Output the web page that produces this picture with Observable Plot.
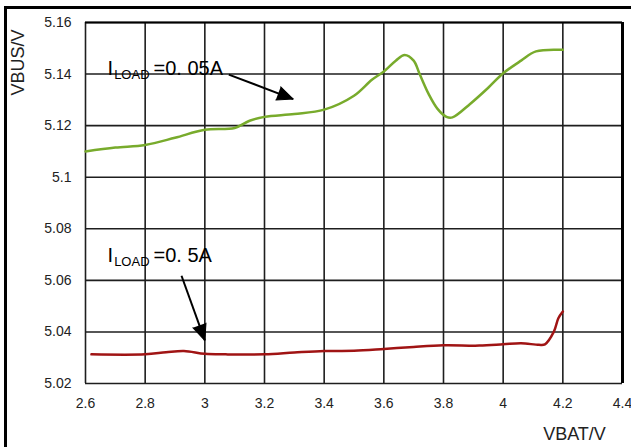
<!DOCTYPE html>
<html><head><meta charset="utf-8">
<script src="https://cdn.jsdelivr.net/npm/d3@7"></script>
<script src="https://cdn.jsdelivr.net/npm/@observablehq/plot@0.6"></script>
<style>
body{margin:0;background:#fff;}
#wrap{position:relative;width:631px;height:447px;overflow:hidden;background:#fff;}
#wrap svg{position:absolute;left:0;top:0;}
#frame{position:absolute;left:4px;top:6px;width:700px;height:500px;border-left:3px solid #000;border-top:3px solid #000;pointer-events:none;}
</style></head><body><div id="wrap"><div id="frame"></div></div>
<script>
// VBAT (V) and VBUS (V)
const vbatGreen = [2.6, 2.7, 2.8, 2.9, 3.0, 3.1, 3.15, 3.2, 3.3, 3.4, 3.5, 3.56, 3.6, 3.64, 3.67, 3.70, 3.72, 3.75, 3.78, 3.81, 3.83, 3.89, 3.95, 4.0, 4.06, 4.11, 4.2];
const vbusGreen = [5.110, 5.1115, 5.1125, 5.1153, 5.1184, 5.1191, 5.1219, 5.1234, 5.1245, 5.1262, 5.1316, 5.1378, 5.1410, 5.1452, 5.1474, 5.1452, 5.1400, 5.1323, 5.1265, 5.1234, 5.1232, 5.1285, 5.1347, 5.1403, 5.1452, 5.1488, 5.1494];
const vbatRed = [2.62, 2.8, 2.87, 2.93, 3.0, 3.07, 3.2, 3.3, 3.4, 3.5, 3.6, 3.7, 3.8, 3.92, 4.0, 4.06, 4.12, 4.14, 4.17, 4.185, 4.2];
const vbusRed = [5.0313, 5.0313, 5.0321, 5.0326, 5.0315, 5.0313, 5.0313, 5.0320, 5.0326, 5.0327, 5.0334, 5.0342, 5.0348, 5.0347, 5.0352, 5.0356, 5.0350, 5.0352, 5.0401, 5.0453, 5.0479];

const xTickValues = [2.6, 2.8, 3.0, 3.2, 3.4, 3.6, 3.8, 4.0, 4.2, 4.4];
const xTickLabels = ["2.6", "2.8", "3", "3.2", "3.4", "3.6", "3.8", "4", "4.2", "4.4"];
const yTickValues = [5.02, 5.04, 5.06, 5.08, 5.10, 5.12, 5.14, 5.16];
const yTickLabels = ["5.02", "5.04", "5.06", "5.08", "5.1", "5.12", "5.14", "5.16"];

const xLabel = "VBAT/V";
const yLabel = "VBUS/V";

const annoText = ["ILOAD=0. 05A", "ILOAD=0. 5A"];
const annoX = [2.674, 2.674];
const annoY = [5.1421, 5.0696];
const arrowX1 = [3.0804, 2.9218];
const arrowY1 = [5.1398, 5.0618];
const arrowX2 = [3.2962, 3.0];
const arrowY2 = [5.1303, 5.0367];

const W = 631, H = 447, ML = 85, MR = 9, MT = 22, MB = 64;
const xDom = [2.6, 4.4], yDom = [5.02, 5.16];
const kx = (W - ML - MR) / (xDom[1] - xDom[0]);
const ky = (H - MT - MB) / (yDom[1] - yDom[0]);

const green = vbatGreen.map((x, i) => ({x, y: vbusGreen[i]}));
const red = vbatRed.map((x, i) => ({x, y: vbusRed[i]}));
const annos = annoText.map((t, i) => ({t, x: annoX[i], y: annoY[i]}));
const arrows = arrowX1.map((x1, i) => ({
  x1, y1: arrowY1[i], x2: arrowX2[i], y2: arrowY2[i],
  rot: Math.atan2((arrowX2[i] - x1) * kx, (arrowY2[i] - arrowY1[i]) * ky) * 180 / Math.PI
}));

const gridColor = "#1e1e1e";
const chart = Plot.plot({
  width: W, height: H,
  marginLeft: ML, marginRight: MR, marginTop: MT, marginBottom: MB,
  style: {fontFamily: "'Liberation Sans', Arial, sans-serif", fontSize: "14px", color: "#222", background: "transparent"},
  x: {domain: xDom, ticks: xTickValues, tickSize: 0, tickPadding: 15,
      tickFormat: d => xTickLabels[xTickValues.findIndex(v => Math.abs(v - d) < 1e-9)], label: null},
  y: {domain: yDom, ticks: yTickValues, tickSize: 0, tickPadding: 14,
      tickFormat: d => yTickLabels[yTickValues.findIndex(v => Math.abs(v - d) < 1e-9)], label: null},
  marks: [
    Plot.ruleX(xTickValues, {stroke: gridColor, strokeWidth: 1.6}),
    Plot.ruleY(yTickValues, {stroke: gridColor, strokeWidth: 1.6}),
    Plot.ruleX([xDom[1]], {stroke: "#000", strokeWidth: 3}),
    Plot.ruleY([yDom[1]], {stroke: "#000", strokeWidth: 2}),
    Plot.line(green, {x: "x", y: "y", stroke: "#78ab2c", strokeWidth: 2.5, curve: "catmull-rom"}),
    Plot.line(red, {x: "x", y: "y", stroke: "#a01414", strokeWidth: 2.5, curve: "catmull-rom"}),
    Plot.link(arrows, {x1: "x1", y1: "y1", x2: "x2", y2: "y2", stroke: "#000", strokeWidth: 2}),
    Plot.vector(arrows, {x: "x2", y: "y2", rotate: "rot", length: 16, r: 7, shape: "spike", anchor: "end", fill: "#000", stroke: "#000", fillOpacity: 1, strokeWidth: 1}),
    Plot.text(annos, {x: "x", y: "y", text: "t", textAnchor: "start", fontSize: 20, fill: "#000"}),
    Plot.text([yLabel], {frameAnchor: "top-left", textAnchor: "middle", lineAnchor: "middle", dx: -67, dy: 40, rotate: -90, fontSize: 18, fill: "#222"}),
    Plot.text([xLabel], {frameAnchor: "bottom-right", textAnchor: "middle", lineAnchor: "middle", dx: -48, dy: 51, fontSize: 18, fill: "#222"})
  ]
});

d3.select(chart).selectAll("text").filter(function () { return annoText.includes(this.textContent); })
  .each(function () {
    const t = this.textContent;
    const sel = d3.select(this);
    sel.text(null);
    sel.append("tspan").text(t.slice(0, 1));
    sel.append("tspan").style("font-size", "13px").attr("dx", 1).attr("dy", 4).text(t.slice(1, 5));
    sel.append("tspan").attr("dx", 4).attr("dy", -4).text(t.slice(5));
  });

document.getElementById("wrap").prepend(chart);
</script>
</body></html>
